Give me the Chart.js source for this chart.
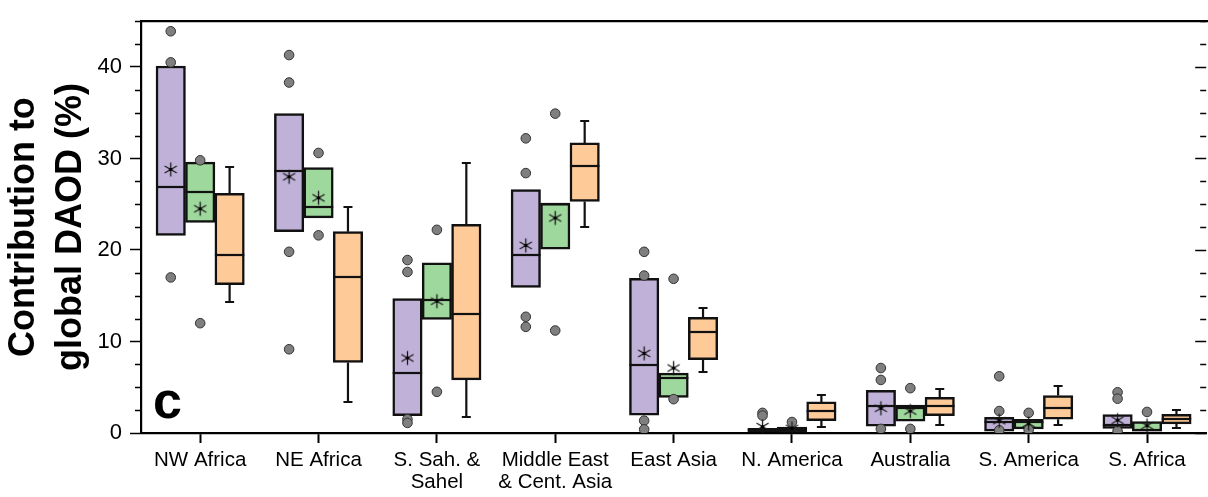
<!DOCTYPE html>
<html>
<head>
<meta charset="utf-8">
<script src="https://cdn.jsdelivr.net/npm/chart.js@4.4.0/dist/chart.umd.min.js"></script>
<style>
  html, body { margin: 0; padding: 0; background: #fff; overflow: hidden; }
  #wrap { width: 1212px; height: 497px; }
</style>
</head>
<body>
<div id="wrap"><canvas id="chart"></canvas></div>
<script>
const FONT = "'Liberation Sans', Arial, sans-serif";

const categories = ['NW Africa', 'NE Africa', ['S. Sah. &', 'Sahel'], ['Middle East', '& Cent. Asia'],
  'East Asia', 'N. America', 'Australia', 'S. America', 'S. Africa'];

// purple boxes
const q1A = [21.6, 22.0, 1.9, 15.9, 1.95, 0.15, 0.75, 0.2, 0.5];
const q3A = [40.1, 34.9, 14.7, 26.6, 16.9, 0.5, 4.65, 1.7, 2.0];
const medA = [26.9, 28.6, 6.6, 19.4, 7.45, 0.3, 2.9, 1.2, 0.9];
const meanA = [28.8, 28.0, 8.2, 20.5, 8.7, 0.7, 2.7, 1.35, 1.4];
const dotsA = [[43.9, 40.5, 17.0], [41.3, 38.3, 19.8, 9.15], [18.9, 17.6, 1.5, 1.1], [32.2, 28.4, 12.7, 11.6],
  [19.8, 17.2, 1.35, 0.4], [2.2, 1.9], [7.1, 5.8, 0.45], [6.2, 2.4, 0.3], [4.45, 3.75, 0.2]];

// green boxes
const q1B = [23.0, 23.5, 12.4, 20.1, 3.9, 0.1, 1.3, 0.45, 0.2];
const q3B = [29.6, 29.0, 18.6, 25.1, 6.55, 0.65, 3.05, 1.5, 1.25];
const medB = [26.35, 24.75, 14.5, 25.0, 6.0, 0.4, 2.75, 1.2, 0.3];
const meanB = [24.5, 25.7, 14.4, 23.5, 7.1, 0.5, 2.4, 1.05, 0.8];
const dotsB = [[29.8, 12.0], [30.6, 21.6], [22.2, 4.5], [34.9, 11.2], [16.85, 3.7], [1.2], [4.9, 0.45], [2.2, 0.35], [2.3]];

// orange boxes with whiskers
const q1C = [16.2, 7.7, 5.8, 25.3, 8.0, 1.35, 1.9, 1.5, 1.0];
const q3C = [26.2, 22.0, 22.8, 31.7, 12.65, 3.4, 3.9, 4.1, 2.05];
const medC = [19.4, 17.1, 12.95, 29.2, 11.0, 2.4, 2.9, 2.75, 1.5];
const loC = [14.3, 3.4, 1.7, 22.5, 6.7, 0.7, 0.9, 0.9, 0.6];
const hiC = [29.1, 24.75, 29.5, 34.1, 13.7, 4.1, 4.8, 5.15, 2.5];

const yMajor = [0, 10, 20, 30, 40];

const PURPLE = '#c0b1d8', GREEN = '#9fd89c', ORANGE = '#fdca98';
const SHIFT = 0.2487; // box offset in category units

// asterisk marker for the means
function makeStar() {
  const c = document.createElement('canvas');
  c.width = 17; c.height = 17;
  const g = c.getContext('2d');
  g.strokeStyle = '#1a1a1a'; g.lineWidth = 1.3;
  for (let k = 0; k < 3; k++) {
    const a = Math.PI / 2 + k * Math.PI / 3;
    g.beginPath();
    g.moveTo(8.5 + 7 * Math.cos(a), 8.5 + 7 * Math.sin(a));
    g.lineTo(8.5 - 7 * Math.cos(a), 8.5 - 7 * Math.sin(a));
    g.stroke();
  }
  g.fillStyle = '#000';
  g.beginPath(); g.arc(8.5, 8.5, 1.8, 0, Math.PI * 2); g.fill();
  return c;
}
const star = makeStar();

function dotPoints(dots, off) {
  let pts = [];
  dots.forEach((list, i) => list.forEach(v => pts.push({ x: i + off, y: v })));
  return pts;
}

function boxDataset(lo, hi, off, color, key) {
  return {
    type: 'bar', xAxisID: 'xs', yAxisID: 'y', key: key, grouped: false, order: 3,
    data: lo.map((v, i) => ({ x: i + off, y: [v, hi[i]] })),
    backgroundColor: color, borderColor: '#111', borderWidth: 2.5, borderSkipped: false,
    categoryPercentage: 1.0, barPercentage: 1.0
  };
}

const medians = { A: medA, B: medB, C: medC };

const boxPlugin = {
  id: 'boxExtras',
  afterDatasetDraw(chart, args) {
    const meta = args.meta;
    const key = chart.data.datasets[args.index].key;
    if (!key) return;
    const ctx = chart.ctx, y = chart.scales.y;
    const med = medians[key];
    ctx.save();
    ctx.strokeStyle = '#111';
    ctx.lineWidth = 2.2;
    meta.data.forEach((bar, i) => {
      const half = bar.width / 2;
      const py = Math.round(y.getPixelForValue(med[i]));
      ctx.beginPath();
      ctx.moveTo(bar.x - half, py); ctx.lineTo(bar.x + half, py);
      ctx.stroke();
      if (key === 'C') {
        const top = y.getPixelForValue(q3C[i]), bot = y.getPixelForValue(q1C[i]);
        const hi = Math.round(y.getPixelForValue(hiC[i])), lo = Math.round(y.getPixelForValue(loC[i]));
        ctx.beginPath();
        ctx.moveTo(bar.x, top); ctx.lineTo(bar.x, hi);
        ctx.moveTo(bar.x - 4.5, hi); ctx.lineTo(bar.x + 4.5, hi);
        ctx.moveTo(bar.x, bot); ctx.lineTo(bar.x, lo);
        ctx.moveTo(bar.x - 4.5, lo); ctx.lineTo(bar.x + 4.5, lo);
        ctx.stroke();
      }
    });
    ctx.restore();
  },
  afterDraw(chart) {
    const ctx = chart.ctx, y = chart.scales.y, a = chart.chartArea;
    ctx.save();
    ctx.strokeStyle = '#000';
    ctx.lineWidth = 2.2;
    ctx.beginPath();
    ctx.moveTo(a.left - 1, a.top); ctx.lineTo(a.right + 2, a.top);
    ctx.stroke();
    ctx.lineWidth = 1.5;
    for (let v = 0; v <= 45; v += 2.5) {
      const py = Math.round(y.getPixelForValue(v)) + 0.5;
      const major = yMajor.includes(v);
      ctx.beginPath();
      if (!major) { ctx.moveTo(a.left - 6, py); ctx.lineTo(a.left, py); }
      ctx.moveTo(a.right, py); ctx.lineTo(a.right - (major ? 11 : 6), py);
      ctx.stroke();
    }
    ctx.fillStyle = '#000';
    ctx.font = 'bold 52px ' + FONT;
    ctx.textBaseline = 'alphabetic';
    ctx.fillText('c', a.left + 12, y.getPixelForValue(1.6));
    ctx.restore();
  }
};

new Chart(document.getElementById('chart'), {
  type: 'bar',
  data: {
    labels: categories,
    datasets: [
      { type: 'scatter', xAxisID: 'xs', yAxisID: 'y', data: meanA.map((v, i) => ({ x: i - SHIFT, y: v })),
        pointStyle: star, order: 1 },
      { type: 'scatter', xAxisID: 'xs', yAxisID: 'y', data: meanB.map((v, i) => ({ x: i, y: v })),
        pointStyle: star, order: 1 },
      { type: 'scatter', xAxisID: 'xs', yAxisID: 'y', data: dotPoints(dotsA, -SHIFT), order: 2,
        pointRadius: 4.8, backgroundColor: '#7f7f7f', borderColor: '#333', borderWidth: 1 },
      { type: 'scatter', xAxisID: 'xs', yAxisID: 'y', data: dotPoints(dotsB, 0), order: 2,
        pointRadius: 4.8, backgroundColor: '#7f7f7f', borderColor: '#333', borderWidth: 1 },
      boxDataset(q1A, q3A, -SHIFT, PURPLE, 'A'),
      boxDataset(q1B, q3B, 0, GREEN, 'B'),
      boxDataset(q1C, q3C, SHIFT, ORANGE, 'C')
    ]
  },
  options: {
    responsive: true,
    maintainAspectRatio: false,
    animation: false,
    devicePixelRatio: 1,
    layout: { padding: { top: 10, right: 3, left: 0, bottom: 0 } },
    plugins: { legend: { display: false }, tooltip: { enabled: false } },
    scales: {
      x: {
        type: 'category',
        offset: true,
        grid: { offset: false, drawOnChartArea: false, drawTicks: true, tickLength: 10, tickWidth: 2, tickColor: '#000' },
        border: { display: true, color: '#000', width: 2.2 },
        ticks: { color: '#000', font: { family: FONT, size: 20.5, lineHeight: 1.1 }, padding: 6, maxRotation: 0, autoSkip: false },
        afterFit: s => { s.height = 64; }
      },
      xs: { type: 'linear', display: false, offset: false, grid: { offset: false }, min: -0.5, max: 8.5 },
      y: {
        min: 0, max: 45,
        ticks: {
          stepSize: 10, color: '#000', padding: 8,
          font: { family: FONT, size: 22 },
          callback: v => (yMajor.includes(v) ? v : '')
        },
        grid: {
          drawOnChartArea: false, drawTicks: true, tickLength: 11, tickWidth: 1.5,
          tickColor: c => (c.tick && yMajor.includes(c.tick.value) ? '#000' : 'rgba(0,0,0,0)')
        },
        border: { display: true, color: '#000', width: 2.2 },
        title: {
          display: true, text: ['Contribution to', 'global DAOD (%)'], color: '#000',
          font: { family: FONT, size: 36, weight: 'bold', lineHeight: 1.32 },
          padding: { top: 0, bottom: 0 }
        },
        afterFit: s => { s.width = 141; }
      }
    }
  },
  plugins: [boxPlugin]
});
</script>
</body>
</html>
